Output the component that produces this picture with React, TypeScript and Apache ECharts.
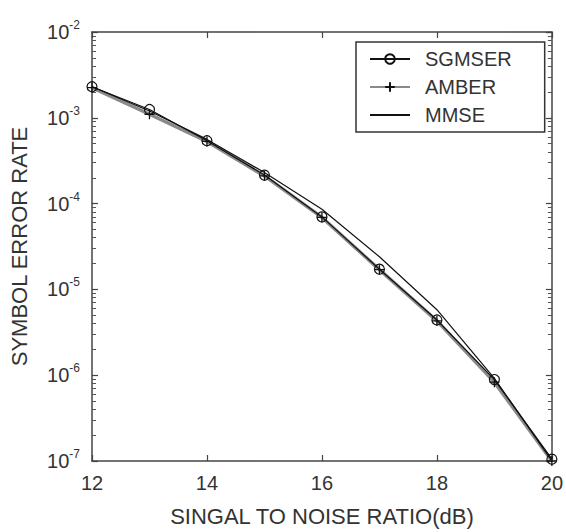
import React, { useEffect, useRef } from "react";
import * as echarts from "echarts";

const snr = [12, 13, 14, 15, 16, 17, 18, 19, 20];
const sgmser = [2.3e-3, 1.25e-3, 5.4e-4, 2.15e-4, 7.0e-5, 1.72e-5, 4.4e-6, 8.9e-7, 1.05e-7];
const amber = [2.25e-3, 1.1e-3, 5.3e-4, 2.1e-4, 6.9e-5, 1.7e-5, 4.3e-6, 8.3e-7, 1.0e-7];
const mmse = [2.3e-3, 1.2e-3, 5.6e-4, 2.3e-4, 8.6e-5, 2.4e-5, 5.8e-6, 9.2e-7, 1.0e-7];
const xTicks = [12, 14, 16, 18, 20];
const decades = [-7, -6, -5, -4, -3, -2];
const minorMultipliers = [2, 3, 4, 5, 6, 7, 8, 9];

const FONT = "Liberation Sans";
const TXT = "#333";
const AX = "#444";

export default function App() {
  const ref = useRef<HTMLDivElement>(null);
  useEffect(() => {
    if (!ref.current) return;
    const chart = echarts.init(ref.current, null, { renderer: "svg" });
    const xMin = xTicks[0];
    const xMax = xTicks[xTicks.length - 1];
    const majorVals = decades.map((d) => Math.pow(10, d));
    const minorVals: number[] = [];
    decades.slice(0, -1).forEach((d) =>
      minorMultipliers.forEach((m) => minorVals.push(m * Math.pow(10, d)))
    );
    const yBase = {
      type: "log",
      logBase: 10,
      min: majorVals[0],
      max: majorVals[majorVals.length - 1],
      splitLine: { show: false },
    };
    const xBase = {
      type: "value",
      min: xMin,
      max: xMax,
      interval: 2,
      splitLine: { show: false },
      axisLine: { show: true, onZero: false, lineStyle: { color: AX, width: 1.5 } },
      axisTick: { show: true, inside: true, length: 6, lineStyle: { color: AX, width: 1.2 } },
    };
    chart.setOption({
      animation: false,
      grid: { left: 90, right: 14, top: 32, bottom: 68 },
      legend: {
        orient: "vertical",
        left: 356,
        top: 42,
        data: ["SGMSER", "AMBER", "MMSE"],
        itemWidth: 40,
        itemHeight: 12,
        itemGap: 8,
        padding: [7, 33, 7, 13],
        borderColor: "#333",
        borderWidth: 1.5,
        backgroundColor: "#fff",
        textStyle: { fontFamily: FONT, fontSize: 20, color: TXT, padding: [0, 0, 0, 10] },
      },
      xAxis: [
        {
          ...xBase,
          position: "bottom",
          name: "SINGAL TO NOISE RATIO(dB)",
          nameLocation: "middle",
          nameGap: 44,
          nameTextStyle: { fontFamily: FONT, fontSize: 22, color: TXT },
          axisLabel: { fontFamily: FONT, fontSize: 20, color: TXT, margin: 12 },
        },
        {
          ...xBase,
          position: "top",
          axisLabel: { show: false },
        },
      ],
      yAxis: [
        {
          ...yBase,
          position: "left",
          name: "SYMBOL ERROR RATE",
          nameLocation: "middle",
          nameGap: 62,
          nameTextStyle: { fontFamily: FONT, fontSize: 22, color: TXT },
          axisLine: { show: true, onZero: false, lineStyle: { color: AX, width: 1.5 } },
          axisTick: { show: true, inside: true, length: 6, lineStyle: { color: AX, width: 1.2 } },
          axisLabel: {
            margin: 12,
            formatter: (v: number) => `{b|10}{e|${Math.round(Math.log10(v))}}`,
            rich: {
              b: { fontFamily: FONT, fontSize: 20, color: TXT },
              e: { fontFamily: FONT, fontSize: 12, color: TXT, verticalAlign: "top", padding: [0, 0, 14, 0] },
            },
          },
        },
        {
          ...yBase,
          position: "right",
          axisLine: { show: true, onZero: false, lineStyle: { color: AX, width: 1.5 } },
          axisTick: { show: true, inside: true, length: 6, lineStyle: { color: AX, width: 1.2 } },
          axisLabel: { show: false },
        },
        {
          ...yBase,
          position: "left",
          offset: 0,
          axisLine: { show: false },
          axisTick: { show: true, inside: true, length: 4, customValues: minorVals, lineStyle: { color: "#555", width: 1 } },
          axisLabel: { show: false },
        },
        {
          ...yBase,
          position: "right",
          offset: 0,
          axisLine: { show: false },
          axisTick: { show: true, inside: true, length: 4, customValues: minorVals, lineStyle: { color: "#555", width: 1 } },
          axisLabel: { show: false },
        },
      ],
      series: [
        {
          name: "AMBER",
          type: "line",
          data: snr.map((x, i) => [x, amber[i]]),
          lineStyle: { color: "#8a8a8a", width: 3.5 },
          symbol: "path://M5 0 L5 10 M0 5 L10 5",
          symbolSize: 10,
          itemStyle: { color: "transparent", borderColor: "#111", borderWidth: 1.3 },
          z: 2,
        },
        {
          name: "SGMSER",
          type: "line",
          data: snr.map((x, i) => [x, sgmser[i]]),
          lineStyle: { color: "#111", width: 1.2 },
          symbol: "circle",
          symbolSize: 10,
          itemStyle: { color: "transparent", borderColor: "#111", borderWidth: 1.2 },
          z: 3,
        },
        {
          name: "MMSE",
          type: "line",
          data: snr.map((x, i) => [x, mmse[i]]),
          lineStyle: { color: "#111", width: 1.2 },
          symbol: "none",
          itemStyle: { color: "transparent", borderColor: "transparent", borderWidth: 0 },
          z: 3,
        },
      ],
    });
    return () => chart.dispose();
  }, []);
  return <div ref={ref} style={{ width: 566, height: 532, position: "absolute", left: 0, top: 0 }} />;
}
